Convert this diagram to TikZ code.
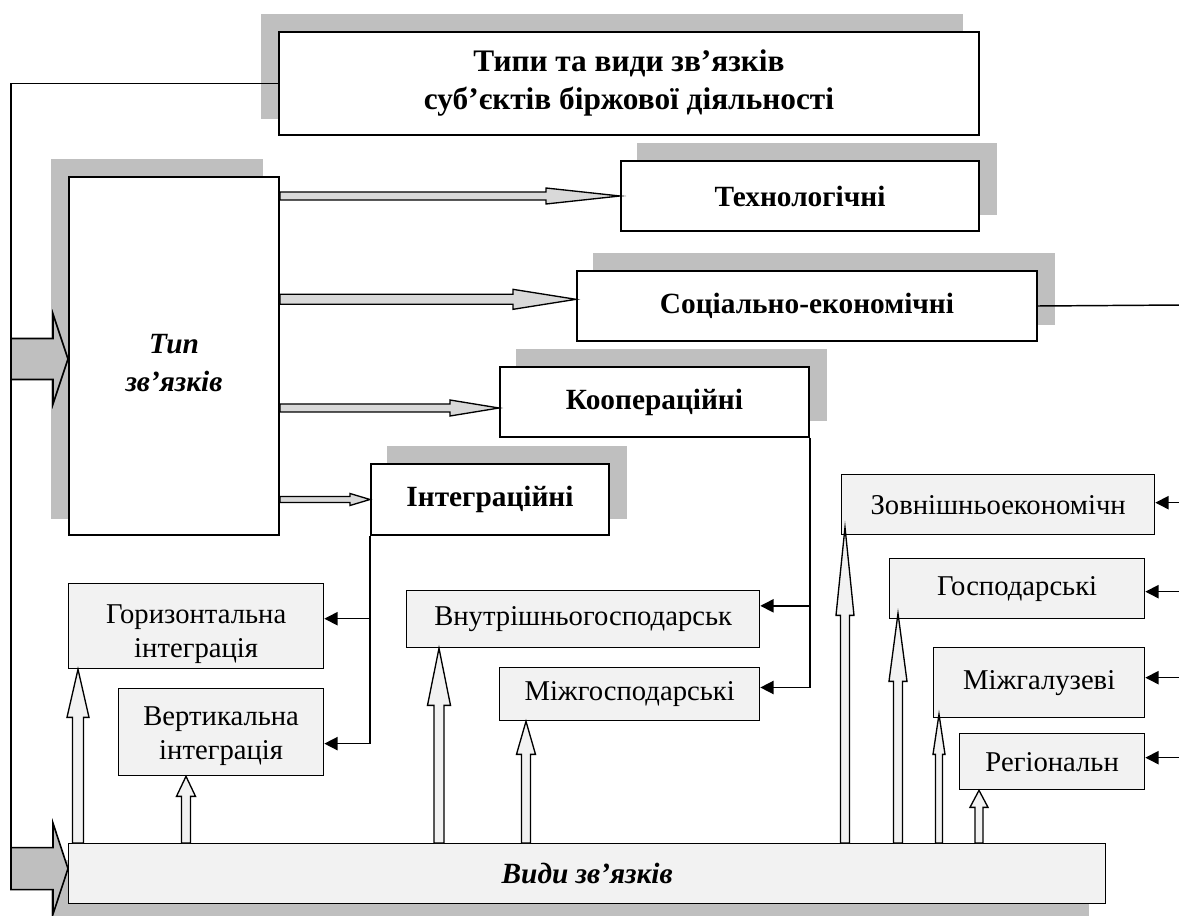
\documentclass[tikz,border=0pt]{standalone}
\usepackage{fontspec}
\setmainfont{Liberation Serif}
\usetikzlibrary{arrows.meta, calc, backgrounds}
\definecolor{shadowgrey}{HTML}{BFBFBF}
\definecolor{kindfill}{HTML}{F2F2F2}
\definecolor{pipefill}{HTML}{D9D9D9}

% block arrow to the right: style, start, tip, half shaft, half head, head length (px)
\newcommand{\rarr}[6]{%
  \filldraw[#1] let \p1=(#2), \p2=(#3) in
    (\x1,\y2+#4*0.75pt) -- (\x2-#6*0.75pt,\y2+#4*0.75pt) -- (\x2-#6*0.75pt,\y2+#5*0.75pt)
    -- (\x2,\y2) -- (\x2-#6*0.75pt,\y2-#5*0.75pt) -- (\x2-#6*0.75pt,\y2-#4*0.75pt)
    -- (\x1,\y2-#4*0.75pt) -- cycle;}
% block arrow upwards: base, tip, half shaft, half head, head length (px)
\newcommand{\uarr}[5]{%
  \filldraw[uppipe] let \p1=(#1), \p2=(#2) in
    (\x2-#3*0.75pt,\y1) -- (\x2-#3*0.75pt,\y2-#5*0.75pt) -- (\x2-#4*0.75pt,\y2-#5*0.75pt)
    -- (\x2,\y2) -- (\x2+#4*0.75pt,\y2-#5*0.75pt) -- (\x2+#3*0.75pt,\y2-#5*0.75pt)
    -- (\x2+#3*0.75pt,\y1) -- cycle;}

\begin{document}
\begin{tikzpicture}[x=0.75pt, y=-0.75pt,
    dims/.style 2 args={minimum width=#1*0.75pt, minimum height=#2*0.75pt},
    mainbox/.style={draw, line width=1.5pt, fill=white, inner sep=0pt, anchor=north west,
      align=center, font=\fontsize{22}{28}\selectfont\bfseries},
    kindbox/.style={draw, line width=1pt, fill=kindfill, inner sep=0pt, anchor=north west,
      align=center, font=\fontsize{21.5}{25}\selectfont},
    wire/.style={line width=1.1pt},
    feed/.style={wire, -{Triangle[length=10pt, width=10pt]}},
    pipe/.style={fill=pipefill, line width=1pt},
    uppipe/.style={fill=kindfill, line width=1pt},
    bigpipe/.style={fill=shadowgrey, line width=1.2pt},
    shadowfill/.style={fill=shadowgrey}]
  \useasboundingbox (0,0) rectangle (1179,916);

  % types
  \node[mainbox, dims={700}{103}, font=\fontsize{23.5}{28.5}\selectfont\bfseries] (ttl) at (278,31)
    {Типи та види зв’язків\\суб’єктів біржової діяльності};
  \node[mainbox, dims={210}{358}, font=\fontsize{22}{29}\selectfont\bfseries\itshape] (typ) at (68,176)
    {\rule{0pt}{25pt}Тип\\зв’язків};
  \node[mainbox, dims={358}{70}] (tech) at (620,160) {Технологічні};
  \node[mainbox, dims={460}{70}] (soc) at (576,270) {Соціально-економічні};
  \node[mainbox, dims={309}{70}] (coop) at (499,366) {Кооперацiйні};
  \node[mainbox, dims={238}{71}] (integ) at (370,463) {Інтеграційні};

  % kinds
  \node[kindbox, dims={255}{85}] (hor) at (68,583) {\rule{0pt}{26pt}Горизонтальна\\інтеграція};
  \node[kindbox, dims={205}{87}] (ver) at (118,688) {\rule{0pt}{20pt}Вертикальна\\інтеграція};
  \node[kindbox, dims={353}{57}] (vnu) at (406,590) {Внутрішньогосподарськ};
  \node[kindbox, dims={260}{53}] (mgs) at (499,667) {Міжгосподарські};
  \node[kindbox, dims={313}{60}] (zov) at (841,474) {Зовнішньоекономічн};
  \node[kindbox, dims={255}{60}] (gos) at (889,558) {Господарські};
  \node[kindbox, dims={211}{70}] (mgl) at (933,647) {Міжгалузеві};
  \node[kindbox, dims={185}{56}] (reg) at (959,733) {Регіональн};
  \node[kindbox, dims={1037}{60}, font=\fontsize{22}{28}\selectfont\bfseries\itshape] (vid) at (68,843)
    {Види зв’язків};

  \begin{scope}[on background layer]
    \foreach \n/\dx/\dy in {ttl/-17/-17, typ/-17/-17, tech/17/-17, soc/17/-17,
                            coop/17/-17, integ/17/-17, vid/-17/17}
      \fill[shadowfill] ([shift={(\dx,\dy)}]\n.south west) rectangle ([shift={(\dx,\dy)}]\n.north east);
  \end{scope}

  \coordinate (lft) at (11,849);
  \coordinate (rgt) at (1183,305);
  \coordinate (horin) at ([yshift=5.6pt]hor.east);
  \coordinate (verin) at ([yshift=-8.6pt]ver.east);
  \coordinate (vnuin) at ([yshift=10pt]vnu.east);
  \coordinate (mgsin) at ([yshift=5pt]mgs.east);
  \coordinate (zovin) at ([yshift=1.5pt]zov.east);
  \coordinate (gosin) at ([yshift=-2.25pt]gos.east);
  \coordinate (mglin) at ([yshift=3.75pt]mgl.east);
  \coordinate (regin) at ([yshift=3pt]reg.east);

  % left frame
  \draw[wire] (ttl.west) -| (lft);
  \rarr{bigpipe}{lft}{[yshift=-2.25pt]typ.west}{20.5}{45}{15}
  \rarr{bigpipe}{lft}{[yshift=3.75pt]vid.west}{21}{45.5}{15}

  % type arrows
  \rarr{pipe}{typ.east}{tech.west}{4}{8}{74}
  \rarr{pipe}{typ.east}{[yshift=5pt]soc.west}{5}{10}{63}
  \rarr{pipe}{typ.east}{[yshift=-4.5pt]coop.west}{4}{8}{49}
  \rarr{pipe}{typ.east}{integ.west}{3}{6}{20}

  % type -> kind links
  \draw[wire] (integ.south west) -- (integ.south west |- verin);
  \draw[feed] (integ.south west |- horin) -- (horin);
  \draw[feed] (integ.south west |- verin) -- (verin);
  \draw[wire] (coop.south east) -- (coop.south east |- mgsin);
  \draw[feed] (coop.south east |- vnuin) -- (vnuin);
  \draw[feed] (coop.south east |- mgsin) -- (mgsin);
  \draw[wire] (soc.east) -- (rgt) -- (rgt |- regin);
  \foreach \k in {zovin, gosin, mglin, regin}
    \draw[feed] (rgt |- \k) -- (\k);

  % kinds from the base
  \uarr{vid.north}{[xshift=7.5pt]hor.south west}{5.5}{11}{48}
  \uarr{vid.north}{[xshift=51pt]ver.south west}{4.5}{9.5}{20}
  \uarr{vid.north}{[xshift=24.75pt]vnu.south west}{5}{11.5}{57}
  \uarr{vid.north}{[xshift=20.25pt]mgs.south west}{4.5}{9.5}{33}
  \uarr{vid.north}{[xshift=3pt, yshift=6pt]zov.south west}{4.5}{9}{88}
  \uarr{vid.north}{[xshift=6.75pt, yshift=4.5pt]gos.south west}{4.5}{9}{68}
  \uarr{vid.north}{[xshift=4.5pt, yshift=3pt]mgl.south west}{3.5}{6}{40}
  \uarr{vid.north}{[xshift=15pt]reg.south west}{4}{9}{17}
\end{tikzpicture}
\end{document}
